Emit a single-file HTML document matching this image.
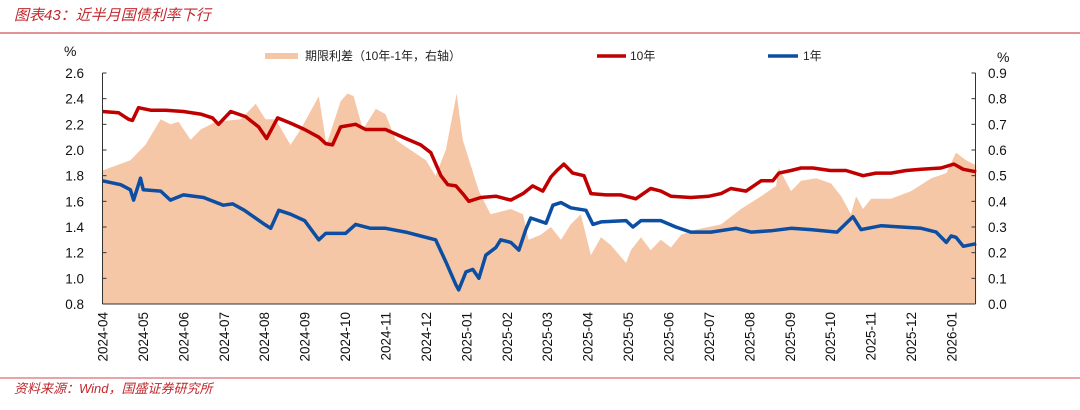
<!DOCTYPE html>
<html><head><meta charset="utf-8"><style>
body{margin:0;background:#fff;}
svg text{font-family:"Liberation Sans","Noto Sans CJK SC",sans-serif;}
</style></head><body>
<svg width="1080" height="405" viewBox="0 0 1080 405" xmlns="http://www.w3.org/2000/svg">
<text x="14" y="20" font-size="15" fill="#C0282D" font-style="italic">图表43：近半月国债利率下行</text>
<line x1="0" y1="33" x2="1080" y2="33" stroke="#C0282D" stroke-width="1"/>
<g id="plot"></g>
<g>
<rect x="265" y="53" width="33" height="6" fill="#F6C7A6"/>
<text x="305" y="60" font-size="12" fill="#222">期限利差（10年-1年，右轴）</text>
<line x1="597" y1="56" x2="626" y2="56" stroke="#C00000" stroke-width="3.5"/>
<text x="630" y="60" font-size="12" fill="#222">10年</text>
<line x1="768" y1="56" x2="798" y2="56" stroke="#0B4EA2" stroke-width="3.5"/>
<text x="803" y="60" font-size="12" fill="#222">1年</text>
</g>
<text x="64" y="56" font-size="14" fill="#111">%</text>
<text x="997" y="62" font-size="14" fill="#111">%</text>
<line x1="0" y1="378" x2="1080" y2="378" stroke="#D0484D" stroke-width="1"/>
<text x="14" y="393" font-size="13" fill="#C0282D" font-style="italic">资料来源：Wind，国盛证券研究所</text>
</svg>
<script>
const xLabels=["2024-04","2024-05","2024-06","2024-07","2024-08","2024-09","2024-10","2024-11","2024-12","2025-01","2025-02","2025-03","2025-04","2025-05","2025-06","2025-07","2025-08","2025-09","2025-10","2025-11","2025-12","2026-01"];
const leftTicks=[0.8,1.0,1.2,1.4,1.6,1.8,2.0,2.2,2.4,2.6];
const rightTicks=[0.0,0.1,0.2,0.3,0.4,0.5,0.6,0.7,0.8,0.9];
// time in months since 2024-04-01
const t10=[0,.40,.64,.74,.89,1.19,1.56,2.00,2.43,2.72,2.87,3.17,3.54,3.86,4.06,4.33,4.65,5.00,5.35,5.52,5.69,5.89,6.26,6.51,7.00,7.50,7.87,8.12,8.37,8.54,8.74,8.91,9.06,9.36,9.73,10.10,10.40,10.64,10.89,11.09,11.24,11.41,11.63,11.91,12.08,12.45,12.82,13.19,13.56,13.81,14.06,14.55,15.00,15.30,15.54,15.92,16.29,16.58,16.73,17.03,17.28,17.57,18.00,18.39,18.81,19.13,19.50,19.88,20.25,20.74,21.06,21.29,21.61];
const y10=[2.30,2.29,2.24,2.23,2.33,2.31,2.31,2.30,2.28,2.25,2.20,2.30,2.26,2.18,2.09,2.25,2.21,2.16,2.10,2.05,2.04,2.18,2.20,2.16,2.16,2.09,2.04,1.98,1.80,1.73,1.72,1.66,1.60,1.63,1.64,1.61,1.66,1.72,1.68,1.79,1.84,1.89,1.82,1.80,1.66,1.65,1.65,1.62,1.70,1.68,1.64,1.63,1.64,1.66,1.70,1.68,1.76,1.76,1.82,1.84,1.86,1.86,1.84,1.84,1.80,1.82,1.82,1.84,1.85,1.86,1.89,1.85,1.83];
const t1=[0,.45,.69,.77,.94,1.01,1.44,1.68,2.00,2.50,2.99,3.22,3.51,4.01,4.16,4.36,4.65,5.00,5.35,5.52,6.01,6.26,6.63,7.00,7.50,7.87,8.24,8.49,8.74,8.81,8.99,9.16,9.31,9.48,9.73,9.85,10.10,10.30,10.47,10.59,10.97,11.14,11.34,11.58,11.96,12.13,12.33,12.95,13.12,13.32,13.81,14.18,14.55,15.05,15.67,16.04,16.53,17.03,17.52,18.17,18.56,18.76,19.26,20.25,20.62,20.87,20.99,21.11,21.29,21.61];
const y1=[1.76,1.73,1.69,1.61,1.78,1.69,1.68,1.61,1.65,1.63,1.57,1.58,1.53,1.42,1.39,1.53,1.50,1.45,1.30,1.35,1.35,1.42,1.39,1.39,1.36,1.33,1.30,1.13,0.95,0.91,1.05,1.07,1.00,1.18,1.24,1.30,1.28,1.22,1.38,1.47,1.43,1.57,1.59,1.55,1.53,1.42,1.44,1.45,1.40,1.45,1.45,1.40,1.36,1.36,1.39,1.36,1.37,1.39,1.38,1.36,1.48,1.38,1.41,1.39,1.36,1.28,1.33,1.32,1.25,1.27];
const tS=[0,.69,1.06,1.44,1.68,1.88,2.18,2.43,2.80,3.42,3.79,4.03,4.28,4.65,4.90,5.35,5.54,5.89,6.06,6.21,6.44,6.76,7.00,7.25,7.62,8.00,8.24,8.49,8.76,8.91,9.11,9.31,9.60,10.10,10.40,10.54,10.84,11.09,11.34,11.58,11.83,12.08,12.33,12.57,12.95,13.07,13.32,13.56,13.81,14.06,14.31,14.68,15.30,15.79,16.29,16.66,16.73,17.03,17.28,17.65,18.02,18.27,18.51,18.64,18.81,19.01,19.50,20.00,20.50,20.87,21.11,21.36,21.61];
const yS=[.52,.56,.62,.72,.70,.71,.64,.68,.71,.72,.78,.72,.72,.62,.68,.81,.62,.79,.82,.81,.68,.76,.74,.64,.60,.56,.50,.60,.82,.64,.54,.44,.35,.37,.35,.25,.27,.30,.25,.31,.35,.19,.26,.23,.16,.21,.26,.21,.25,.22,.27,.29,.31,.37,.42,.46,.53,.44,.48,.49,.47,.42,.35,.42,.37,.41,.41,.44,.49,.51,.59,.56,.54];

const NS='http://www.w3.org/2000/svg';
const X0=102.5,MW=40.43,YT=73,YB=304;
const xs=t=>X0+t*MW;
const yL=v=>YB-(v-0.8)/(2.6-0.8)*(YB-YT);
const yR=v=>YB-(v-0)/(0.9-0)*(YB-YT);
const plot=document.getElementById('plot');
function mk(tag,attrs){const e=document.createElementNS(NS,tag);for(const k in attrs)e.setAttribute(k,attrs[k]);plot.appendChild(e);return e;}

let d='M'+xs(tS[0])+','+yR(0);
tS.forEach((t,i)=>{d+=' L'+xs(t).toFixed(1)+','+yR(yS[i]).toFixed(1);});
d+=' L'+xs(tS[tS.length-1])+','+yR(0)+' Z';
const area=mk('path',{d:d,fill:'#F6C7A6'});



const line=(ts,vs,col,name)=>{const p=mk('path',{d:ts.map((t,i)=>(i?'L':'M')+xs(t).toFixed(1)+','+yL(vs[i]).toFixed(1)).join(' '),fill:'none',stroke:col,'stroke-width':3.5,'stroke-linejoin':'round'});

};
line(t10,y10,'#C00000','line-10y');
line(t1,y1,'#0B4EA2','line-1y');

const la=mk('line',{x1:X0,y1:YT,x2:X0,y2:YB,stroke:'#333','stroke-width':1});


const ra=mk('line',{x1:975.5,y1:YT,x2:975.5,y2:YB,stroke:'#333','stroke-width':1});


const xa=mk('line',{x1:X0,y1:YB,x2:975.5,y2:YB,stroke:'#333','stroke-width':1});



leftTicks.forEach(v=>{const y=yL(v);mk('line',{x1:X0,y1:y,x2:X0+4,y2:y,stroke:'#333'});
const tx=mk('text',{x:84,y:y+5,'font-size':13.5,'text-anchor':'end',fill:'#111'});tx.textContent=v.toFixed(1);

});
rightTicks.forEach(v=>{const y=yR(v);mk('line',{x1:971.5,y1:y,x2:975.5,y2:y,stroke:'#333'});
const tx=mk('text',{x:988,y:y+5,'font-size':13.5,fill:'#111'});tx.textContent=v.toFixed(1);

});
xLabels.forEach((s,i)=>{const x=xs(i);
const tx=mk('text',{x:0,y:0,'font-size':13.5,'text-anchor':'end',fill:'#111',transform:'translate('+(x+5)+',312) rotate(-90)'});tx.textContent=s;

});
</script>
</body></html>
